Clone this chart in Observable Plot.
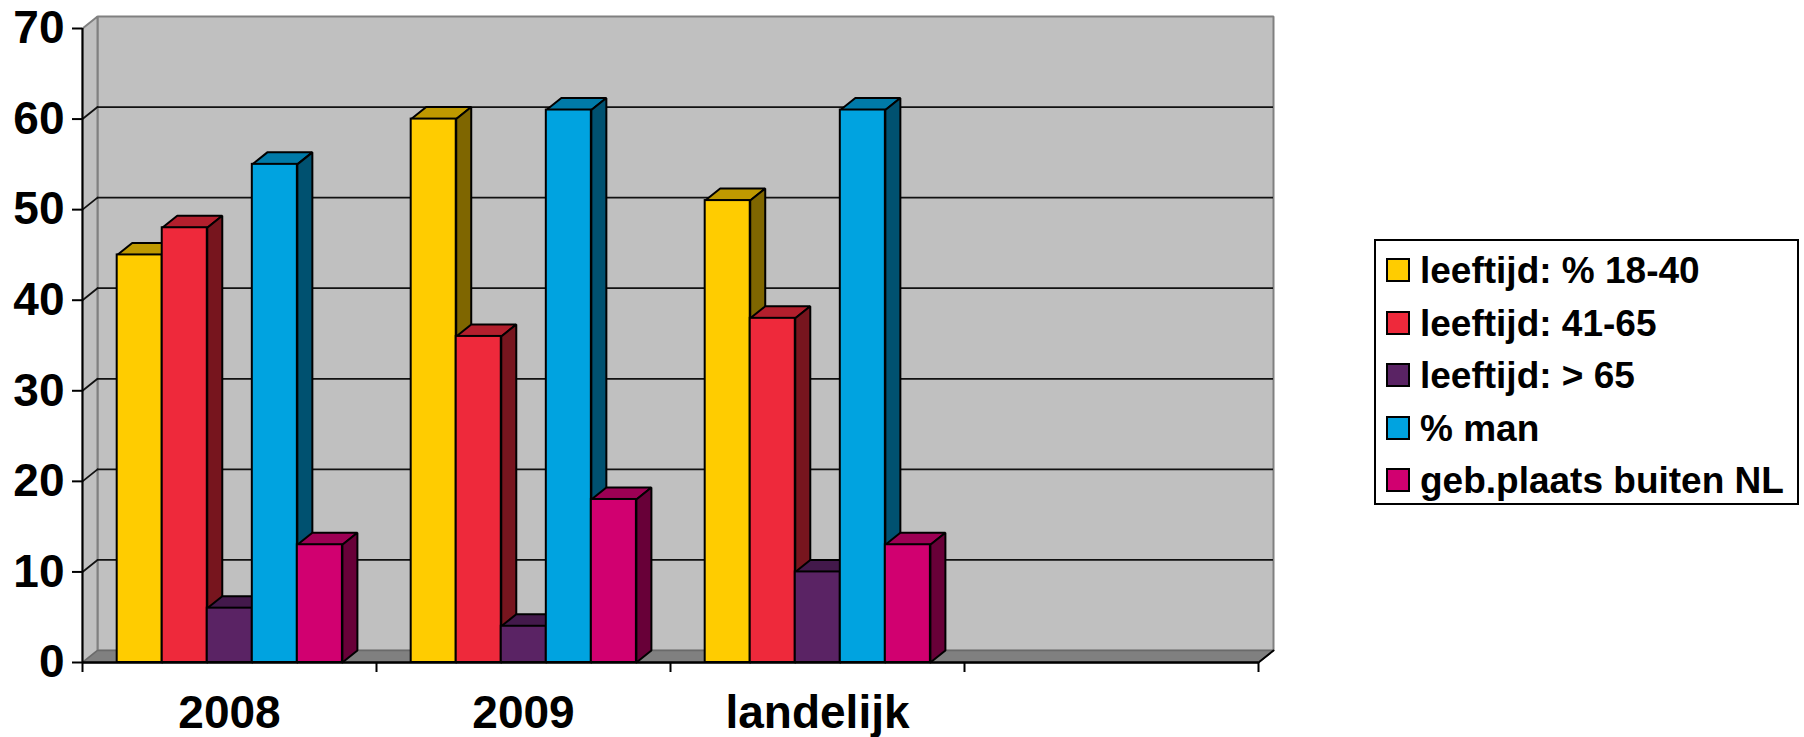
<!DOCTYPE html>
<html>
<head>
<meta charset="utf-8">
<script src="https://cdn.jsdelivr.net/npm/d3@7"></script>
<script src="https://cdn.jsdelivr.net/npm/@observablehq/plot@0.6"></script>
<style>
html,body{margin:0;padding:0;background:#fff;}
#wrap{position:relative;width:1804px;height:737px;overflow:hidden;font-family:"Liberation Sans",Arial,sans-serif;font-weight:bold;color:#000;}
#legend{position:absolute;left:1374px;top:239px;width:421px;height:262px;border:2px solid #000;background:#fff;}
#legend .row{position:absolute;left:0;height:52px;line-height:52px;font-size:37px;white-space:nowrap;}
#legend .sw{position:absolute;left:10px;top:14px;width:20px;height:20px;border:2px solid #000;}
#legend .tx{position:absolute;left:44px;top:1px;}
</style>
</head>
<body>
<div id="wrap"></div>
<script>
const categories = ["2008", "2009", "landelijk", ""];
const seriesNames = ["leeftijd: % 18-40", "leeftijd: 41-65", "leeftijd: > 65", "% man", "geb.plaats buiten NL"];
const series1840 = [45, 60, 51, null];
const series4165 = [48, 36, 38, null];
const series65 = [6, 4, 10, null];
const seriesMan = [55, 61, 61, null];
const seriesBuiten = [13, 18, 13, null];
const seriesValues = [series1840, series4165, series65, seriesMan, seriesBuiten];
const seriesFill = ["#FFCC00", "#EE293B", "#5A2364", "#00A3E0", "#D10070"];
const seriesTop = ["#BF9900", "#B31F2D", "#43194B", "#007AA8", "#9D0054"];
const seriesSide = ["#7F6600", "#77151E", "#2D1232", "#005170", "#680038"];
const yTicks = [0, 10, 20, 30, 40, 50, 60, 70];

// chart geometry in data units
const depthX = 15 / 294, depthY = 12 / 9.057;
const groupPad = 0.118, barW = 0.1532;
const n = categories.length, yMax = 70;

const poly = (pts) => pts.concat([pts[0]]).map(([x, y]) => ({x, y}));
const face = (pts, fill, stroke, strokeWidth) =>
  Plot.line(poly(pts), {x: "x", y: "y", fill, stroke, strokeWidth, strokeLinejoin: "miter"});

const marks = [];
// walls and floor
marks.push(face([[depthX, depthY], [n + depthX, depthY], [n + depthX, yMax + depthY], [depthX, yMax + depthY]], "#C0C0C0", "#808080", 2));
marks.push(face([[0, 0], [depthX, depthY], [depthX, yMax + depthY], [0, yMax]], "#C0C0C0", "#808080", 2));
marks.push(face([[0, 0], [n, 0], [n + depthX, depthY], [depthX, depthY]], "#808080", "#6a6a6a", 1.5));
marks.push(Plot.line([{x: n, y: 0}, {x: n + depthX, y: depthY}], {x: "x", y: "y", stroke: "#000", strokeWidth: 2}));
// gridlines
for (const v of yTicks.filter((t) => t > 0 && t < yMax)) {
  marks.push(Plot.ruleY([v + depthY], {x1: depthX, x2: n + depthX, stroke: "#111", strokeWidth: 1.8}));
  marks.push(Plot.line([{x: 0, y: v}, {x: depthX, y: v + depthY}], {x: "x", y: "y", stroke: "#111", strokeWidth: 1.8}));
}
// bars, left to right
categories.forEach((c, i) => {
  seriesValues.forEach((vals, s) => {
    const v = vals[i];
    if (v == null) return;
    const x1 = i + groupPad + s * barW, x2 = x1 + barW;
    marks.push(face([[x1, v], [x2, v], [x2 + depthX, v + depthY], [x1 + depthX, v + depthY]], seriesTop[s], "#000", 2));
    marks.push(face([[x2, 0], [x2 + depthX, depthY], [x2 + depthX, v + depthY], [x2, v]], seriesSide[s], "#000", 2));
    marks.push(Plot.rect([{x1, x2, y1: 0, y2: v}], {x1: "x1", x2: "x2", y1: "y1", y2: "y2", fill: seriesFill[s], stroke: "#000", strokeWidth: 2}));
  });
});
// axes
marks.push(Plot.ruleX([0], {y1: 0, y2: yMax, stroke: "#000", strokeWidth: 2}));
marks.push(Plot.ruleY([0], {x1: 0, x2: n, stroke: "#000", strokeWidth: 2.4}));
marks.push(Plot.axisY({ticks: yTicks, tickSize: 10, tickPadding: 8, fontSize: 46, stroke: "#000", strokeWidth: 2, fill: "#000", label: null, tickFormat: (d) => String(d)}));
marks.push(Plot.axisX({ticks: d3.range(n + 1), tickSize: 10, tickFormat: () => "", stroke: "#000", strokeWidth: 2, label: null}));
marks.push(Plot.axisX({ticks: categories.map((_, i) => i + 0.5), tickSize: 0, tickPadding: 33, fontSize: 46, fill: "#000", label: null, tickFormat: (d) => categories[Math.floor(d)]}));

const chart = Plot.plot({
  width: 1804, height: 737,
  marginLeft: 82, marginRight: 546, marginTop: 28, marginBottom: 75,
  style: {fontFamily: '"Liberation Sans", Arial, sans-serif', fontWeight: "bold", background: "#fff", overflow: "visible"},
  x: {type: "linear", domain: [0, n]},
  y: {type: "linear", domain: [0, yMax]},
  marks
});
const wrap = document.getElementById("wrap");
wrap.appendChild(chart);

const legend = document.createElement("div");
legend.id = "legend";
seriesNames.forEach((name, s) => {
  const row = document.createElement("div");
  row.className = "row";
  row.style.top = (3 + s * 52.5) + "px";
  const sw = document.createElement("div");
  sw.className = "sw";
  sw.style.background = seriesFill[s];
  const tx = document.createElement("div");
  tx.className = "tx";
  tx.textContent = name;
  row.append(sw, tx);
  legend.appendChild(row);
});
wrap.appendChild(legend);
</script>
</body>
</html>
